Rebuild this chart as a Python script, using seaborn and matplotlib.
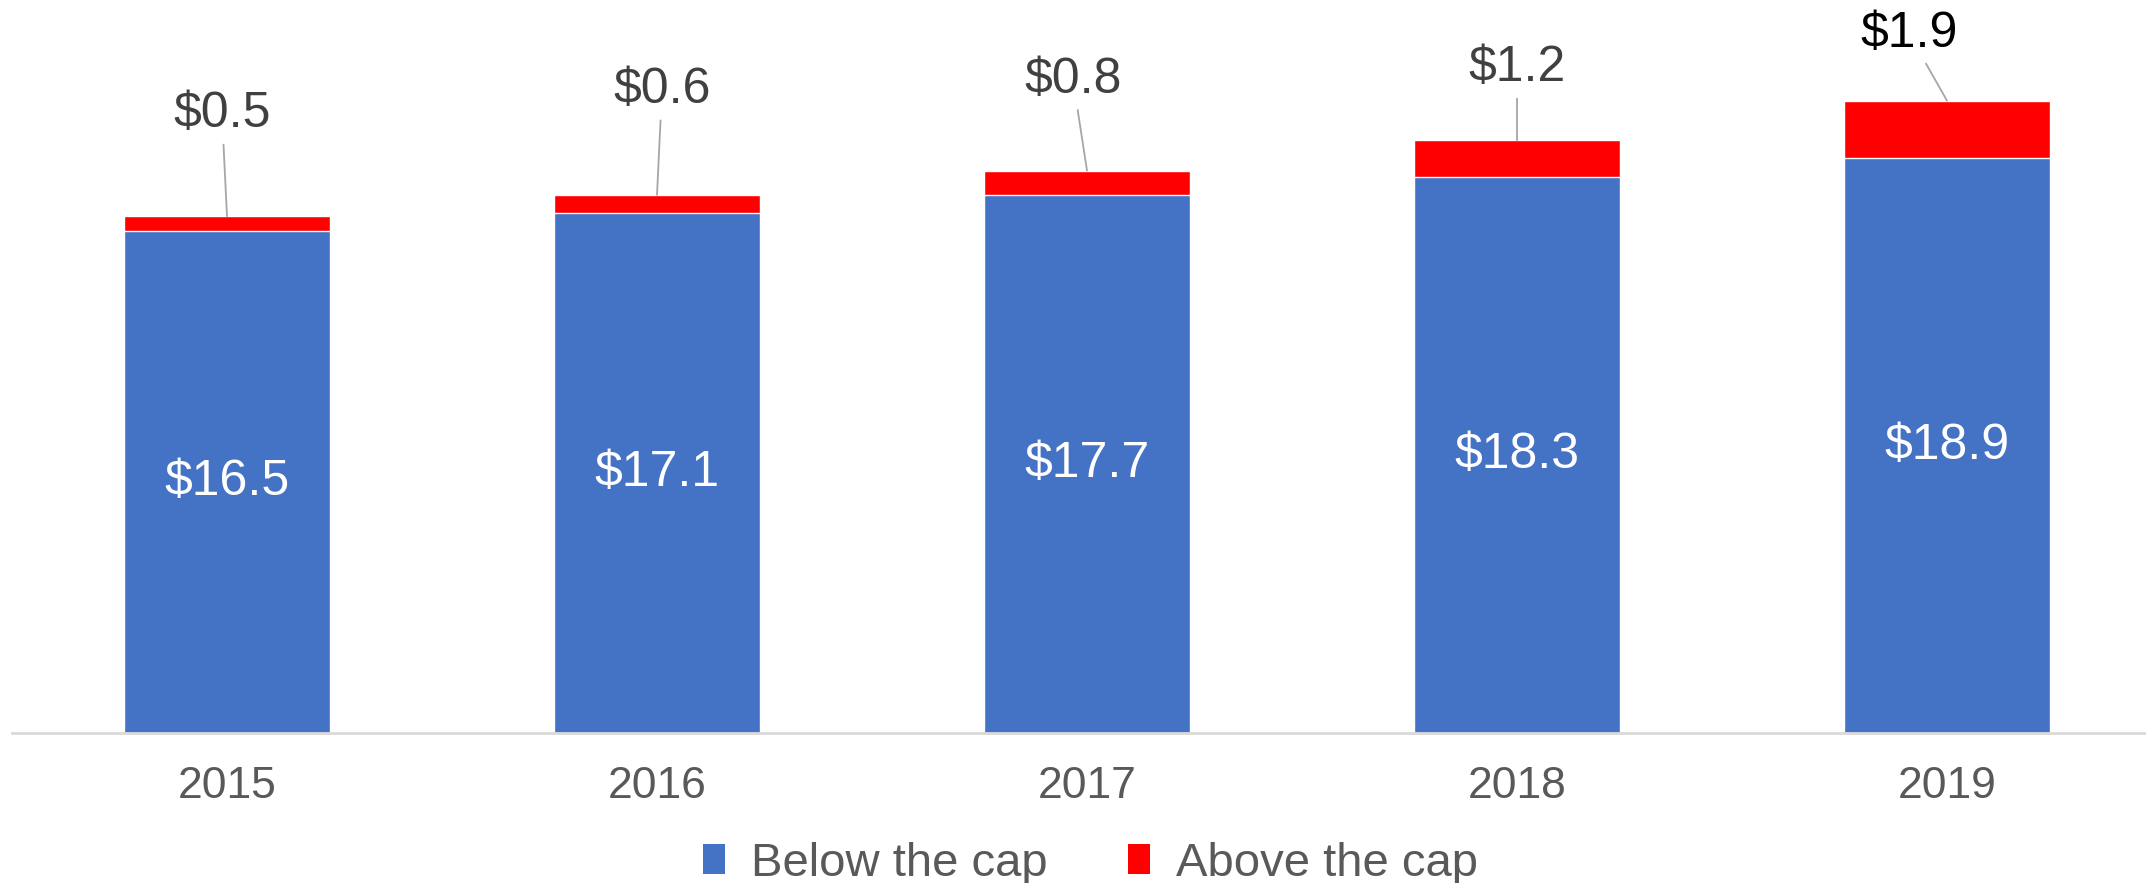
import matplotlib

matplotlib.use("Agg")
import matplotlib.pyplot as plt
import seaborn as sns
from matplotlib.patches import Patch

years = ["2015", "2016", "2017", "2018", "2019"]
below_cap = [16.5, 17.1, 17.7, 18.3, 18.9]
above_cap = [0.5, 0.6, 0.8, 1.2, 1.9]
series_names = ["Below the cap", "Above the cap"]

BLUE = "#4472C4"
RED = "#FF0000"

# label offsets (pixels) from the top of each stack, and label colours
label_offsets = [(-5, 102), (5, 105), (-14, 91), (0, 72), (-38, 67)]
label_colors = ["#404040", "#404040", "#404040", "#404040", "#000000"]

sns.set_theme(style="white")
plt.rcParams["font.family"] = ["Liberation Sans", "DejaVu Sans"]

fig = plt.figure(figsize=(21.46, 8.83), dpi=100)
ax = fig.add_axes([12 / 2146, 150 / 883, 2150 / 2146, 733 / 883])

totals = [b + a for b, a in zip(below_cap, above_cap)]
sns.barplot(x=years, y=totals, color=RED, saturation=1, width=0.477, ax=ax)
sns.barplot(x=years, y=below_cap, color=BLUE, saturation=1, width=0.477, ax=ax)

ax.bar_label(ax.containers[1], labels=[f"${v:.1f}" for v in below_cap],
             label_type="center", color="white", fontsize=36)

for i, (val, top) in enumerate(zip(above_cap, totals)):
    ax.annotate(f"${val:.1f}", xy=(i, top), xytext=label_offsets[i],
                textcoords="offset pixels", ha="center", va="center",
                fontsize=36, color=label_colors[i],
                arrowprops=dict(arrowstyle="-", color="#a6a6a6", lw=1.3,
                                shrinkA=3, shrinkB=0))

ax.set_xlim(-0.5, 4.5)
ax.set_ylim(0, 733 / 30.4)
ax.set_yticks([])
ax.set_xlabel("")
ax.set_ylabel("")
ax.tick_params(axis="x", length=0, pad=24, labelsize=32, labelcolor="#595959")
for side in ["top", "left", "right"]:
    ax.spines[side].set_visible(False)
ax.spines["bottom"].set_color("#d9d9d9")
ax.spines["bottom"].set_linewidth(2)

handles = [Patch(facecolor=BLUE, edgecolor="none"), Patch(facecolor=RED, edgecolor="none")]
fig.legend(handles, series_names, loc="center", bbox_to_anchor=(0.508, 0.022),
           ncol=2, frameon=False, fontsize=34, labelcolor="#595959",
           handlelength=0.47, handleheight=0.63, handletextpad=0.55,
           columnspacing=1.7, borderpad=0.1)

fig.savefig("out.png", dpi=100)
